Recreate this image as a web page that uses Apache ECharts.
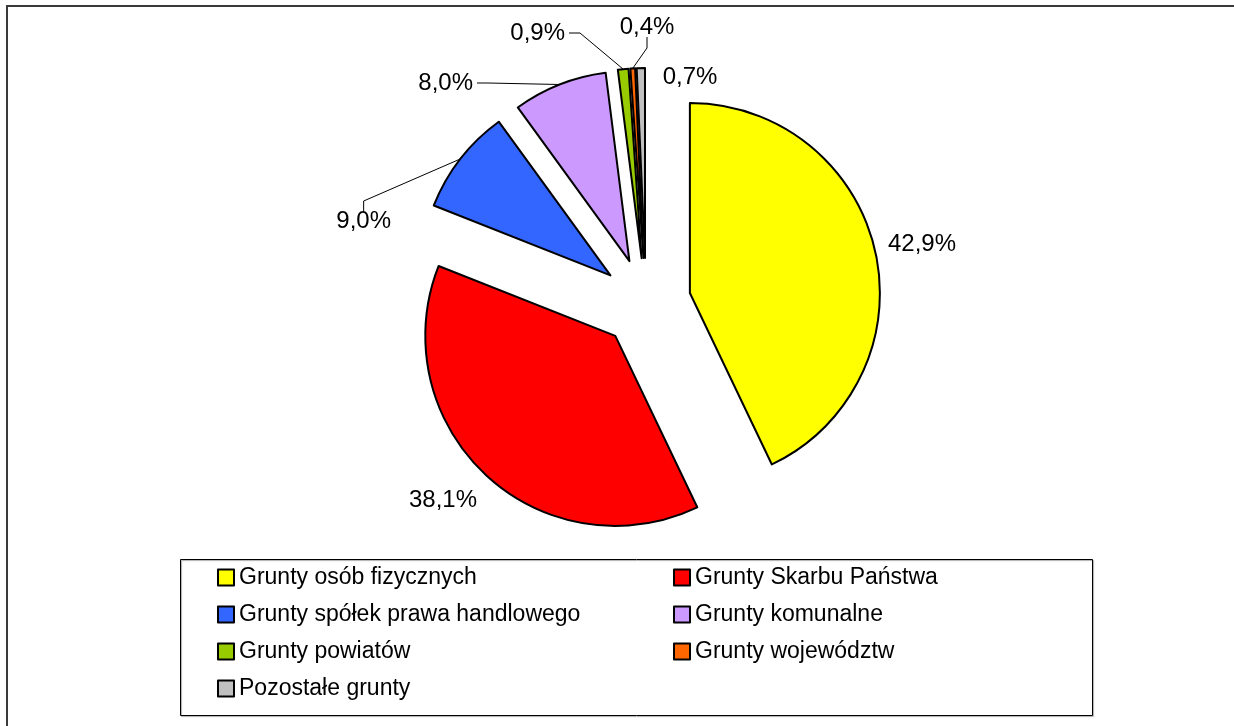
<!DOCTYPE html>
<html>
<head>
<meta charset="utf-8">
<script src="https://cdn.jsdelivr.net/npm/echarts@6/dist/echarts.min.js"></script>
<style>
  html, body { margin: 0; padding: 0; background: #fff; }
  #chart { width: 1234px; height: 726px; }
</style>
</head>
<body>
<div id="chart"></div>
<script>
// kategorie i udziały (%)
const categories = [
  'Grunty osób fizycznych',
  'Grunty Skarbu Państwa',
  'Grunty spółek prawa handlowego',
  'Grunty komunalne',
  'Grunty powiatów',
  'Grunty województw',
  'Pozostałe grunty'
]
const shares = [42.9, 38.1, 9.0, 8.0, 0.9, 0.4, 0.7]
const colors = ['#ffff00', '#ff0000', '#3366ff', '#cc99ff', '#99cc00', '#ff6600', '#c0c0c0']

// gdzie stoi etykieta procentowa: [x, y, align, strona linii odniesienia]
const labelSpots = [
  [888, 244, 'left', null],
  [477, 500, 'right', null],
  [391, 221, 'right', 'top'],
  [473, 83, 'right', 'right'],
  [565, 33, 'right', 'right'],
  [647, 27, 'center', 'bottom'],
  [690, 77, 'center', null]
]

const font = 'Liberation Sans, Arial, sans-serif'
const pieCenter = [646, 303]
const pieRadius = 190
const explode = 45

const myChart = echarts.init(document.getElementById('chart'))

// linia: od brzegu wycinka (środek łuku) przez kolanko do boku etykiety
const placeLabel = p => {
  const [x, y, align, side] = labelSpots[p.dataIndex]
  const out = { x, y, align, verticalAlign: 'middle' }
  if (side && p.labelLinePoints) {
    const w = p.labelRect.width
    const h = p.labelRect.height
    const left = align === 'left' ? x : align === 'right' ? x - w : x - w / 2
    const top = y - h / 2
    let a, b
    if (side === 'top') { a = [left + w / 2, top + 3]; b = [a[0], a[1] - 11] }
    else if (side === 'bottom') { a = [left + w / 2, top + h - 2]; b = [a[0], a[1] + 11] }
    else { a = [left + w + 4, y]; b = [a[0] + 11, y] }
    out.labelLinePoints = [p.labelLinePoints[0], b, a]
  }
  return out
}

const option = {
  animation: false,
  graphic: [
    // ramka wykresu
    {
      type: 'rect',
      shape: { x: 7, y: 6, width: 1300, height: 800 },
      style: { fill: 'none', stroke: '#3a3a3a', lineWidth: 2 },
      silent: true
    },
    // ramka legendy
    {
      type: 'rect',
      shape: { x: 180.5, y: 559.5, width: 912, height: 156 },
      style: { fill: 'none', stroke: '#000', lineWidth: 1, shadowColor: 'rgba(0,0,0,0.35)', shadowOffsetX: 1, shadowOffsetY: 1, shadowBlur: 1 },
      silent: true
    }
  ],
  legend: {
    left: 217,
    top: 566,
    width: 900,
    padding: 0,
    itemGap: 14,
    itemWidth: 16,
    itemHeight: 16,
    icon: 'rect',
    selectedMode: false,
    textStyle: { fontFamily: font, fontSize: 23, color: '#000', width: 420, lineHeight: 23 },
    data: categories
  },
  series: [
    // wycinki (wysunięte)
    {
      type: 'pie',
      center: pieCenter,
      radius: pieRadius,
      startAngle: 90,
      clockwise: true,
      selectedMode: 'multiple',
      selectedOffset: explode,
      emphasis: { disabled: true },
      itemStyle: { borderColor: '#000', borderWidth: 2 },
      label: { show: false },
      labelLine: { show: false },
      data: categories.map((name, i) => ({
        name,
        value: shares[i],
        selected: true,
        itemStyle: { color: colors[i] }
      }))
    },
    // tylko etykiety - niewidoczne wycinki o promieniu po wysunięciu
    {
      type: 'pie',
      center: pieCenter,
      radius: pieRadius + explode,
      startAngle: 90,
      clockwise: true,
      silent: true,
      avoidLabelOverlap: false,
      emphasis: { disabled: true },
      itemStyle: { color: 'rgba(0,0,0,0)', borderWidth: 0 },
      label: {
        show: true,
        position: 'outside',
        fontFamily: font,
        fontSize: 24,
        color: '#000',
        formatter: p => p.value.toFixed(1).replace('.', ',') + '%'
      },
      labelLine: { show: false, length: 0, length2: 11, lineStyle: { color: '#000', width: 1 } },
      labelLayout: placeLabel,
      data: categories.map((name, i) => ({
        name,
        value: shares[i],
        labelLine: { show: labelSpots[i][3] !== null }
      }))
    }
  ]
}
myChart.setOption(option)
</script>
</body>
</html>
